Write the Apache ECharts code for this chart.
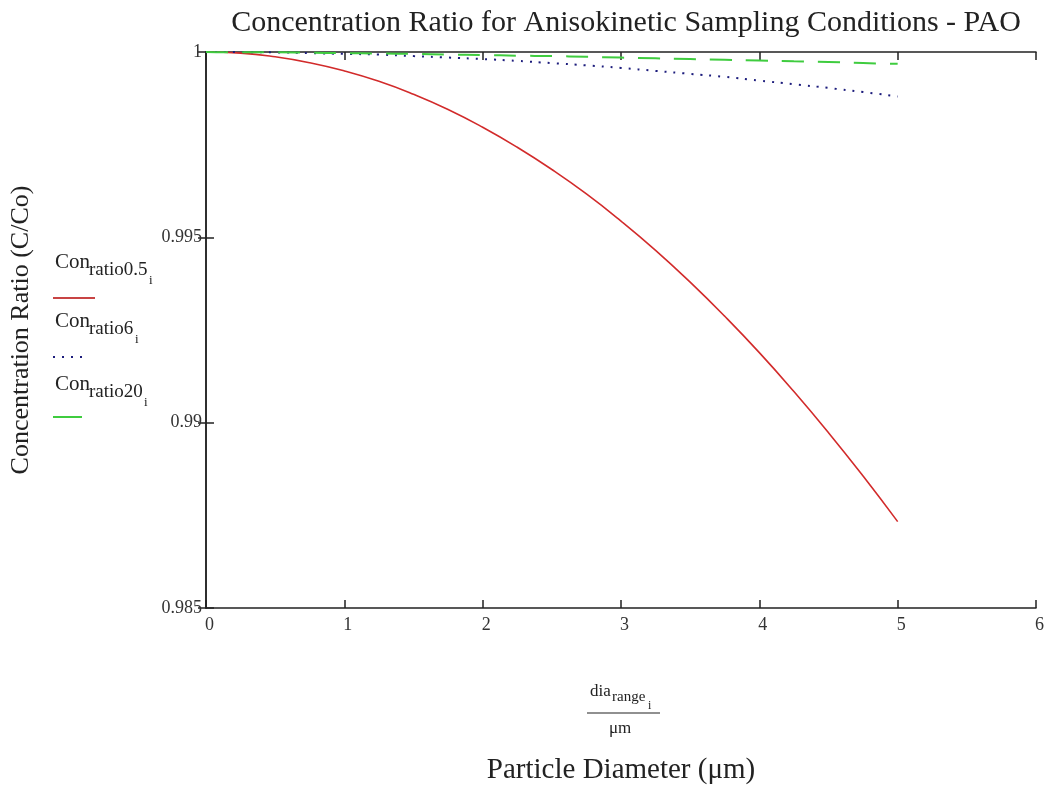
<!DOCTYPE html>
<html>
<head>
<meta charset="utf-8">
<script src="https://cdn.jsdelivr.net/npm/echarts@6/dist/echarts.min.js"></script>
<style>
html, body { margin: 0; padding: 0; background: #fff; }
#main { width: 1049px; height: 790px; }
</style>
</head>
<body>
<div id="main"></div>
<script>
// particle diameter (um)
var diameters = [0, 0.25, 0.5, 0.75, 1, 1.25, 1.5, 1.75, 2, 2.25, 2.5, 2.75, 3, 3.25, 3.5, 3.75, 4, 4.25, 4.5, 4.75, 5];
// concentration ratio C/Co
var ratio05 = [1, 0.99997, 0.99987, 0.99971, 0.99949, 0.99921, 0.99886, 0.99845, 0.99797, 0.99743, 0.99683,
    0.99617, 0.99544, 0.99465, 0.99379, 0.99287, 0.99189, 0.99084, 0.98973, 0.98856, 0.98733];
var ratio6 = [1, 0.999997, 0.99999, 0.99997, 0.99995, 0.99993, 0.99989, 0.99985, 0.99981, 0.99976, 0.9997,
    0.99964, 0.99957, 0.99949, 0.99941, 0.99933, 0.99923, 0.99913, 0.99903, 0.99892, 0.9988];
var ratio20 = [1, 0.99999, 0.99999, 0.99998, 0.99997, 0.99996, 0.99995, 0.99993, 0.99992, 0.9999, 0.99989,
    0.99987, 0.99985, 0.99983, 0.99981, 0.99979, 0.99977, 0.99975, 0.99973, 0.9997, 0.99968];

function pairs(vals) {
    return diameters.map(function (d, i) { return [d, vals[i]]; });
}

var serif = '"Liberation Serif", "Times New Roman", serif';
var axisLine = {show: true, lineStyle: {color: '#222', width: 1.5}};
var axisTick = {show: true, inside: true, length: 8, lineStyle: {color: '#222', width: 1.5}};
var tickFont = {color: '#333', fontFamily: serif, fontSize: 18};

// legend entry: "Con" + subscript + second subscript "i", line sample below
function legendItem(top, lineY, sub, subW, lineW, lineType, color) {
    return [
        {type: 'text', left: 55, top: top, style: {text: 'Con', font: '21px ' + serif, fill: '#222'}},
        {type: 'text', left: 89, top: top + 9, style: {text: sub, font: '19px ' + serif, fill: '#222'}},
        {type: 'text', left: 89 + subW, top: top + 22, style: {text: 'i', font: '13px ' + serif, fill: '#222'}},
        {type: 'line', shape: {x1: 53, y1: lineY, x2: 53 + lineW, y2: lineY},
            style: {stroke: color, lineWidth: 2, lineDash: lineType}}
    ];
}

var chart = echarts.init(document.getElementById('main'));
var option = {
    backgroundColor: '#fff',
    animation: false,
    title: {
        text: 'Concentration Ratio for Anisokinetic Sampling Conditions - PAO',
        left: 621,
        top: 3,
        textAlign: 'center',
        textStyle: {fontFamily: serif, fontSize: 30, fontWeight: 'normal', color: '#222'}
    },
    grid: {left: 206, right: 13, top: 52, bottom: 166},
    xAxis: [
        {
            type: 'value', min: 0, max: 6, interval: 1, position: 'bottom',
            axisLine: axisLine, axisTick: axisTick, splitLine: {show: false},
            axisLabel: Object.assign({margin: 8, padding: [0, 0, 0, 7]}, tickFont),
            name: 'Particle Diameter (\u03bcm)', nameLocation: 'middle', nameGap: 148,
            nameTextStyle: {fontFamily: serif, fontSize: 29, color: '#222'}
        },
        {
            type: 'value', min: 0, max: 6, interval: 1, position: 'top',
            axisLine: axisLine, axisTick: axisTick, splitLine: {show: false},
            axisLabel: {show: false}
        }
    ],
    yAxis: [
        {
            type: 'value', min: 0.985, max: 1, interval: 0.005, position: 'left',
            axisLine: axisLine, axisTick: axisTick, splitLine: {show: false},
            axisLabel: Object.assign({margin: 4}, tickFont),
            name: 'Concentration Ratio (C/Co)', nameLocation: 'middle', nameGap: 172,
            nameTextStyle: {fontFamily: serif, fontSize: 26, color: '#222'}
        },
        {
            type: 'value', min: 0.985, max: 1, interval: 0.005, position: 'right',
            axisLine: axisLine, axisTick: axisTick, splitLine: {show: false},
            axisLabel: {show: false}
        }
    ],
    series: [
        {
            name: 'Con ratio0.5', type: 'line', data: pairs(ratio05), smooth: true,
            showSymbol: false, lineStyle: {color: '#d22b2b', width: 1.6}
        },
        {
            name: 'Con ratio6', type: 'line', data: pairs(ratio6), smooth: true,
            showSymbol: false, lineStyle: {color: '#1c1c7c', width: 2, type: [2, 7]}
        },
        {
            name: 'Con ratio20', type: 'line', data: pairs(ratio20), smooth: true,
            showSymbol: false, lineStyle: {color: '#3fcc3f', width: 2, type: [22, 14]}
        }
    ],
    graphic: [].concat(
        legendItem(252, 298, 'ratio0.5', 60, 42, null, '#c84444'),
        legendItem(311, 357, 'ratio6', 46, 35, [2, 7], '#1c1c7c'),
        legendItem(374, 417, 'ratio20', 55, 29, null, '#3fcc3f'),
        [
            {type: 'text', left: 590, top: 683, style: {text: 'dia', font: '17px ' + serif, fill: '#222'}},
            {type: 'text', left: 612, top: 690, style: {text: 'range', font: '15px ' + serif, fill: '#222'}},
            {type: 'text', left: 648, top: 700, style: {text: 'i', font: '12px ' + serif, fill: '#222'}},
            {type: 'line', shape: {x1: 587, y1: 713, x2: 660, y2: 713}, style: {stroke: '#222', lineWidth: 1.2}},
            {type: 'text', left: 609, top: 720, style: {text: '\u03bcm', font: '17px ' + serif, fill: '#222'}}
        ]
    )
};
chart.setOption(option);
window.onresize = chart.resize;
</script>
</body>
</html>
